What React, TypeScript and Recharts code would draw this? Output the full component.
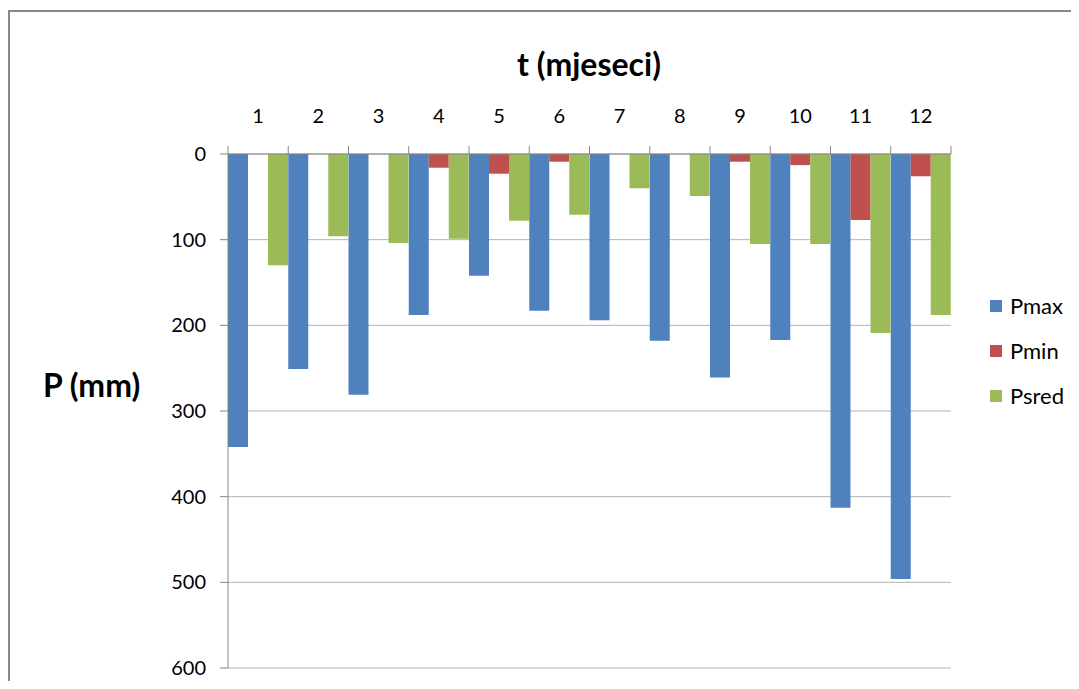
import { Bar, BarChart, CartesianGrid, XAxis, YAxis } from "recharts";

const categories = ["1", "2", "3", "4", "5", "6", "7", "8", "9", "10", "11", "12"];
const pmax = [342, 251, 281, 188, 142, 183, 194, 218, 261, 217, 413, 496];
const pmin = [0, 0, 0, 16, 23, 9, 0, 0, 9, 13, 77, 26];
const psred = [130, 96, 104, 99, 78, 71, 40, 49, 105, 105, 209, 188];
const yTicks = [0, 100, 200, 300, 400, 500, 600];

const series = [
  { key: "Pmax", color: "#4F81BD" },
  { key: "Pmin", color: "#C0504D" },
  { key: "Psred", color: "#9BBB59" },
];

const data = categories.map((c, i) => ({
  month: c,
  Pmax: pmax[i],
  Pmin: pmin[i],
  Psred: psred[i],
}));

const FONT = "Lato, 'Open Sans', sans-serif";
const AXIS_GRAY = "#868686";
const GRID_GRAY = "#b3b3b3";

const W = 1071;
const H = 673;
const MARGIN = { top: 96, right: 128, bottom: 13, left: 160 };
const PLOT_TOP = 146;
const PLOT_W = W - MARGIN.left - 60 - MARGIN.right;
const BAND = PLOT_W / categories.length;

function MonthTick(props: any) {
  const { x, payload, index } = props;
  const left = x - BAND / 2;
  return (
    <g>
      <line x1={left} x2={left} y1={PLOT_TOP - 8} y2={PLOT_TOP} stroke={AXIS_GRAY} />
      {index === categories.length - 1 && (
        <line
          x1={x + BAND / 2}
          x2={x + BAND / 2}
          y1={PLOT_TOP - 8}
          y2={PLOT_TOP}
          stroke={AXIS_GRAY}
        />
      )}
      <text
        x={x}
        y={PLOT_TOP - 39}
        textAnchor="middle"
        dominantBaseline="central"
        fontSize={20}
        fontFamily={FONT}
        fill="#000"
      >
        {payload.value}
      </text>
    </g>
  );
}

export default function App() {
  return (
    <div style={{ position: "relative", width: W, height: H }}>
      {/* chart frame: only top and left edges fall inside the window */}
      <div
        style={{
          position: "absolute",
          left: 0,
          top: 2,
          width: W,
          height: H - 2,
          borderTop: "2px solid #898989",
          borderLeft: "2px solid #898989",
          boxSizing: "border-box",
        }}
      />
      <div
        style={{
          position: "absolute",
          left: 381,
          width: 400,
          top: 36,
          textAlign: "center",
          fontFamily: FONT,
          fontWeight: 700,
          fontSize: 32,
          lineHeight: "40px",
        }}
      >
        t (mjeseci)
      </div>
      <div
        style={{
          position: "absolute",
          left: 35,
          top: 357,
          fontFamily: FONT,
          fontWeight: 700,
          fontSize: 32,
          lineHeight: "40px",
        }}
      >
        P (mm)
      </div>
      <div
        style={{
          position: "absolute",
          left: 982,
          top: 275,
          fontFamily: FONT,
          fontSize: 22,
          color: "#000",
        }}
      >
        {series.map((s) => (
          <div key={s.key} style={{ display: "flex", alignItems: "center", height: 45 }}>
            <span
              style={{
                width: 12,
                height: 12,
                background: s.color,
                marginRight: 8,
                display: "inline-block",
              }}
            />
            {s.key}
          </div>
        ))}
      </div>
      <div style={{ position: "absolute", left: 0, top: 0 }}>
        <BarChart
          width={W}
          height={H}
          data={data}
          margin={MARGIN}
          barCategoryGap={0}
          barGap={0}
        >
          <CartesianGrid horizontal vertical={false} stroke={GRID_GRAY} />
          <XAxis
            dataKey="month"
            orientation="top"
            height={50}
            axisLine={{ stroke: AXIS_GRAY }}
            tickLine={false}
            tick={<MonthTick />}
            interval={0}
          />
          <YAxis
            reversed
            width={60}
            domain={[0, 600]}
            ticks={yTicks}
            axisLine={{ stroke: AXIS_GRAY }}
            tickLine={{ stroke: AXIS_GRAY }}
            tickSize={8}
            tickMargin={14}
            tick={{ fontSize: 20, fontFamily: FONT, fill: "#000" }}
          />
          {series.map((s) => (
            <Bar key={s.key} dataKey={s.key} fill={s.color} isAnimationActive={false} />
          ))}
        </BarChart>
      </div>
    </div>
  );
}
